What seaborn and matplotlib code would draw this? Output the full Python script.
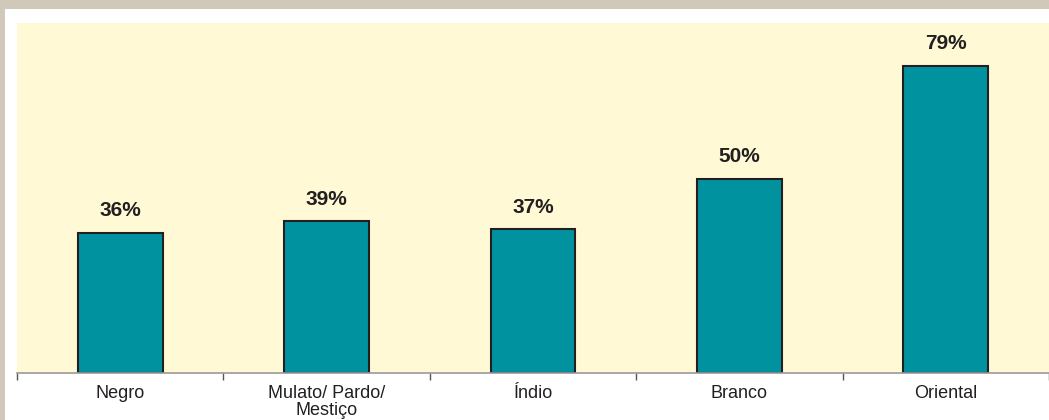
import matplotlib
matplotlib.use("Agg")
import matplotlib.pyplot as plt
import seaborn as sns
import pandas as pd
from matplotlib.patches import Rectangle
from matplotlib.ticker import FixedLocator

# dados
categorias = ["Negro", "Mulato/ Pardo/\nMestiço", "Índio", "Branco", "Oriental"]
valores = [36, 39, 37, 50, 79]

df = pd.DataFrame({"grupo": categorias, "pct": valores})

sns.set_style("white")
plt.rcParams["font.family"] = ["Liberation Sans", "DejaVu Sans"]

fig = plt.figure(figsize=(10.49, 4.2), dpi=100)
fig.patch.set_facecolor("white")
# faixa superior e lateral esquerda
fig.patches.append(Rectangle((0, 1 - 9 / 420), 1, 9 / 420, transform=fig.transFigure,
                             facecolor="#d0c9b9", edgecolor="none", zorder=0))
fig.patches.append(Rectangle((0, 0), 5 / 1049, 1, transform=fig.transFigure,
                             facecolor="#d0c9b9", edgecolor="none", zorder=0))

ax = fig.add_axes([17 / 1049, 47 / 420, 1032 / 1049, 350 / 420])
ax.set_facecolor("#fffad5")

sns.barplot(data=df, x="grupo", y="pct", ax=ax, color="#00929f", width=0.41,
            edgecolor="#231f20", linewidth=1.5, saturation=1)

for i, v in enumerate(valores):
    ax.annotate(f"{v}%", (i, v), xytext=(0, 9), textcoords="offset points",
                ha="center", va="bottom", fontsize=15, fontweight="bold", color="#231f20")

ax.set_ylim(0, 90)
ax.set_xlim(-0.5, len(categorias) - 0.5)
ax.set_yticks([])
ax.set_xlabel("")
ax.set_ylabel("")
for s in ["left", "right", "top"]:
    ax.spines[s].set_visible(False)
ax.spines["bottom"].set_color("#9a9a9a")
ax.spines["bottom"].set_linewidth(1.2)

ax.tick_params(axis="x", which="major", length=0, pad=9, labelsize=13, colors="#231f20")
ax.xaxis.set_minor_locator(FixedLocator([i - 0.5 for i in range(len(categorias) + 1)]))
ax.tick_params(axis="x", which="minor", bottom=True, length=5, width=1,
               color="#555555", direction="out")
for t in ax.get_xticklabels():
    t.set_linespacing(0.95)
ax.grid(False)

fig.savefig("out.png", dpi=100, facecolor=fig.get_facecolor())
